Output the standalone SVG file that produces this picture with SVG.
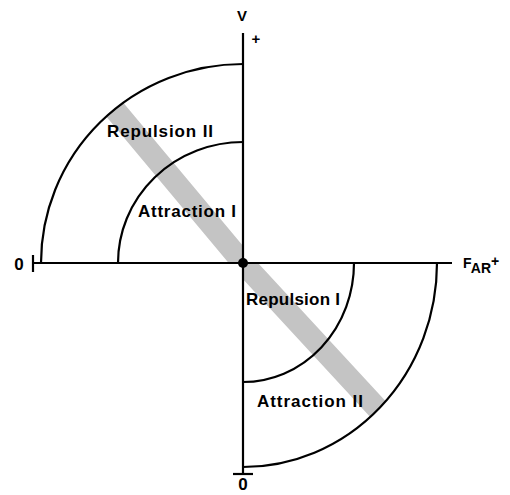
<svg xmlns="http://www.w3.org/2000/svg" width="510" height="495" viewBox="0 0 510 495">
<style>
.ln{fill:none;stroke:#000;stroke-width:2.2}
.lb{font-family:"Liberation Sans",Arial,sans-serif;font-weight:bold;fill:#000}
</style>
<defs>
<clipPath id="bandClip">
<path d="M243 263 L243 64 A202 199 0 0 0 41 263 Z"/>
<path d="M243 263 L437 263 A194 204 0 0 1 243 467 Z"/>
</clipPath>
</defs>
<rect width="510" height="495" fill="#fff"/>
<g id="band" clip-path="url(#bandClip)">
<polyline points="85,74 243,263 400,433" fill="none" stroke="#c4c4c4" stroke-width="22"/>
</g>
<g id="arcs">
<path class="ln" d="M243 64 A202 199 0 0 0 41 263"/>
<path class="ln" d="M243 142 A125 121 0 0 0 118 263"/>
<path class="ln" d="M354 263 A111 119 0 0 1 243 382"/>
<path class="ln" d="M437 263 A194 204 0 0 1 243 467"/>
</g>
<g id="axes">
<path class="ln" d="M33 263 H452"/>
<path class="ln" d="M33 255 V272"/>
<path class="ln" d="M243 33 V474"/>
<path class="ln" d="M233 474 H253"/>
<circle cx="243" cy="263" r="5" fill="#000"/>
</g>
<g id="labels">
<text class="lb" x="242" y="21" font-size="15" text-anchor="middle">V</text>
<text class="lb" x="256" y="44" font-size="15" text-anchor="middle">+</text>
<text class="lb" x="19" y="270" font-size="17" text-anchor="middle">0</text>
<text class="lb" x="243" y="490" font-size="17" text-anchor="middle">0</text>
<text class="lb" x="463" y="268" font-size="14">F<tspan dy="5">AR</tspan><tspan dy="-7">+</tspan></text>
<text class="lb" x="107" y="137" font-size="17" textLength="106" lengthAdjust="spacing">Repulsion II</text>
<text class="lb" x="138" y="217" font-size="17" textLength="98" lengthAdjust="spacing">Attraction I</text>
<text class="lb" x="246" y="305" font-size="17" textLength="94" lengthAdjust="spacing">Repulsion I</text>
<text class="lb" x="257" y="407" font-size="17" textLength="106" lengthAdjust="spacing">Attraction II</text>
</g>
</svg>
